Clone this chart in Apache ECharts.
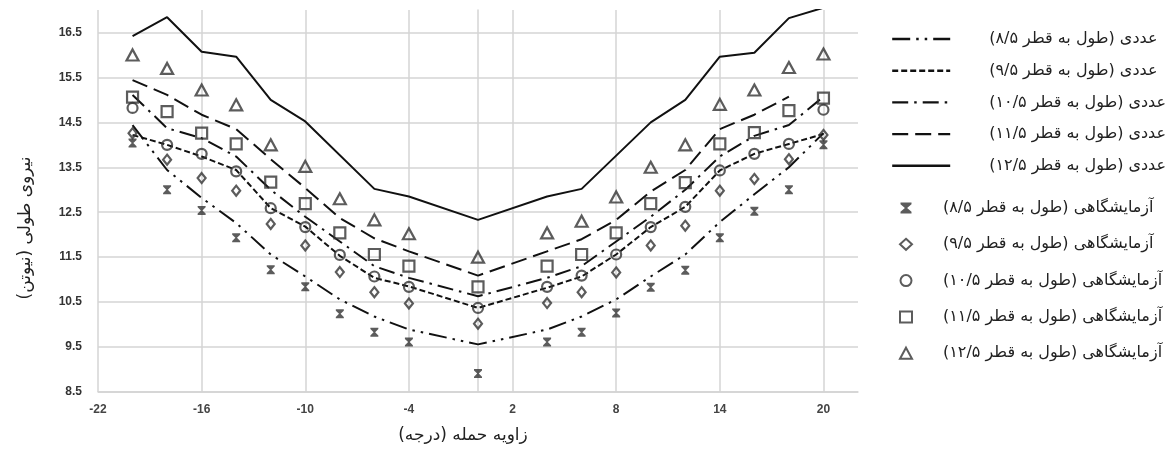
<!DOCTYPE html>
<html>
<head>
<meta charset="utf-8">
<script src="https://cdn.jsdelivr.net/npm/echarts@6/dist/echarts.min.js"></script>
<style>
  html, body { margin: 0; background: #fff; }
  #chart { width: 1175px; height: 450px; }
</style>
</head>
<body>
<div id="chart"></div>
<script>
// RLM keeps the Persian labels (with brackets) in right-to-left order on the canvas
const RLM = '\u200F'
const fa = s => RLM + s + RLM

// angle of attack (deg) shared by every series
const angles = [-20, -18, -16, -14, -12, -10, -8, -6, -4, 0, 4, 6, 8, 10, 12, 14, 16, 18, 20]

// numerical results (null = no vertex at that angle)
const num85 = [14.44, 13.44, 12.82, 12.26, 11.56, 11.07, 10.56, 10.18, 9.89, 9.56, 9.89, 10.18, 10.56, 11.07, 11.56, 12.28, 12.9, 13.5, 14.26]
const num95 = [14.22, 14.0, 13.74, 13.44, 12.59, 12.18, 11.53, 11.04, 10.85, 10.37, 10.82, 11.07, 11.56, 12.17, 12.62, 13.43, 13.8, 14.02, 14.24]
const num105 = [15.11, 14.37, 14.15, 13.74, 13.0, 12.4, 11.85, 11.3, 11.04, 10.63, 11.04, 11.3, 11.85, 12.4, 13.0, 13.74, 14.2, 14.44, 15.07]
const num115 = [15.44, 15.11, 14.67, 14.35, 13.68, 13.04, 12.37, 11.92, 11.63, 11.09, 11.63, 11.9, 12.33, 12.96, 13.44, 14.35, 14.67, 15.07, null]
const num125 = [16.42, 16.84, 16.07, 15.96, 15.0, 14.52, null, 13.02, 12.85, 12.33, 12.85, 13.02, null, 14.5, 15.0, 15.96, 16.05, 16.82, 17.05]

// experimental results
const exp85 = [14.04, 13.0, 12.54, 11.93, 11.22, 10.84, 10.24, 9.83, 9.61, 8.91, 9.61, 9.83, 10.26, 10.83, 11.21, 11.93, 12.52, 13.0, 14.0]
const exp95 = [14.26, 13.67, 13.26, 12.98, 12.24, 11.76, 11.17, 10.72, 10.47, 10.02, 10.48, 10.72, 11.16, 11.76, 12.2, 12.98, 13.24, 13.68, 14.22]
const exp105 = [14.82, 14.0, 13.8, 13.41, 12.59, 12.17, 11.55, 11.07, 10.84, 10.37, 10.84, 11.09, 11.56, 12.17, 12.62, 13.43, 13.8, 14.02, 14.78]
const exp115 = [15.06, 14.74, 14.26, 14.02, 13.17, 12.69, 12.04, 11.56, 11.3, 10.84, 11.3, 11.56, 12.04, 12.69, 13.16, 14.02, 14.27, 14.76, 15.04]
const exp125 = [16.0, 15.7, 15.22, 14.89, 14.0, 13.52, 12.8, 12.33, 12.02, 11.5, 12.04, 12.3, 12.84, 13.5, 14.0, 14.9, 15.22, 15.72, 16.02]

const ratios = ['۸/۵', '۹/۵', '۱۰/۵', '۱۱/۵', '۱۲/۵']
const numNames = ratios.map(r => fa('عددی (طول به قطر ' + r + ')'))
const expNames = ratios.map(r => fa('آزمایشگاهی (طول به قطر ' + r + ')'))

const xTitle = fa('زاویه حمله (درجه)')
const yTitle = fa('نیروی طولی (نیوتن)')

const pairs = vals => angles.map((a, i) => [a, vals[i]])

const lineColor = '#111'
const markColor = '#333'
const gridColor = '#d4d4d4'
const faFont = 'DejaVu Sans'

const numData = [num85, num95, num105, num115, num125]
const dashes = [[18, 6, 2.5, 6, 2.5, 6], [6, 3], [16, 6, 2.5, 6], [16, 7], 'solid']

const expData = [exp85, exp95, exp105, exp115, exp125]
const bowtie = 'path://M0,0H10V1.5L6,5L10,8.5V10H0V8.5L4,5L0,1.5Z'
const symbols = [bowtie, 'diamond', 'circle', 'rect', 'triangle']
const symSizes = [[8, 9], [8, 10], [10, 10], [11, 11], [12, 11]]

const series = []
numData.forEach((vals, i) => {
  series.push({
    name: numNames[i],
    type: 'line',
    data: pairs(vals),
    symbol: 'none',
    connectNulls: true,
    z: 2,
    lineStyle: { color: lineColor, width: 2, type: dashes[i] },
    itemStyle: { color: lineColor }
  })
})
expData.forEach((vals, i) => {
  series.push({
    name: expNames[i],
    type: 'scatter',
    data: pairs(vals),
    symbol: symbols[i],
    symbolSize: symSizes[i],
    z: 3,
    itemStyle: i === 0
      ? { color: markColor }
      : { color: 'rgba(255,255,255,0)', borderColor: markColor, borderWidth: 2.2 }
  })
})

const chart = echarts.init(document.getElementById('chart'))
chart.setOption({
  animation: false,
  backgroundColor: '#fff',
  grid: { left: 98, right: 317, top: 10, bottom: 58 },
  xAxis: {
    type: 'value',
    min: -22,
    max: 22,
    interval: 6,
    name: xTitle,
    nameLocation: 'middle',
    nameGap: 35,
    nameTextStyle: { fontFamily: faFont, fontSize: 17, color: '#222', padding: [0, 30, 0, 0] },
    axisLine: { lineStyle: { color: gridColor, width: 1.5 } },
    axisTick: { show: false },
    axisLabel: { showMaxLabel: false, margin: 12, fontFamily: 'Liberation Sans', fontSize: 12, fontWeight: 'bold', color: '#444' },
    splitLine: { show: true, showMaxLine: false, lineStyle: { color: gridColor, width: 1.5 } }
  },
  yAxis: {
    type: 'value',
    min: 8.5,
    max: 17,
    interval: 1,
    name: yTitle,
    nameLocation: 'middle',
    nameRotate: 90,
    nameGap: 64,
    nameTextStyle: { fontFamily: faFont, fontSize: 17, color: '#222', padding: [0, 54, 0, 0] },
    axisLine: { show: true, lineStyle: { color: gridColor, width: 1.5 } },
    axisTick: { show: false },
    axisLabel: { showMaxLabel: false, margin: 16, formatter: v => v.toFixed(1), fontFamily: 'Liberation Sans', fontSize: 12, fontWeight: 'bold', color: '#333' },
    splitLine: { show: true, showMaxLine: false, lineStyle: { color: gridColor, width: 1.5 } }
  },
  legend: [
    {
      data: numNames,
      orient: 'vertical',
      left: 886,
      top: 26,
      itemWidth: 58,
      itemHeight: 14,
      itemGap: 15.7,
      selectedMode: false,
      itemStyle: { opacity: 0 },
      lineStyle: { opacity: 1, width: 2.4 },
      textStyle: { fontFamily: faFont, fontSize: 16, color: '#222', lineHeight: 14, padding: [0, 0, 0, 34] }
    },
    {
      data: expNames,
      orient: 'vertical',
      left: 894,
      top: 195,
      itemWidth: 12,
      itemHeight: 11,
      itemGap: 20.3,
      selectedMode: false,
      textStyle: { fontFamily: faFont, fontSize: 16, color: '#222', lineHeight: 14, padding: [0, 0, 0, 26] }
    }
  ],
  series: series
})
</script>
</body>
</html>
